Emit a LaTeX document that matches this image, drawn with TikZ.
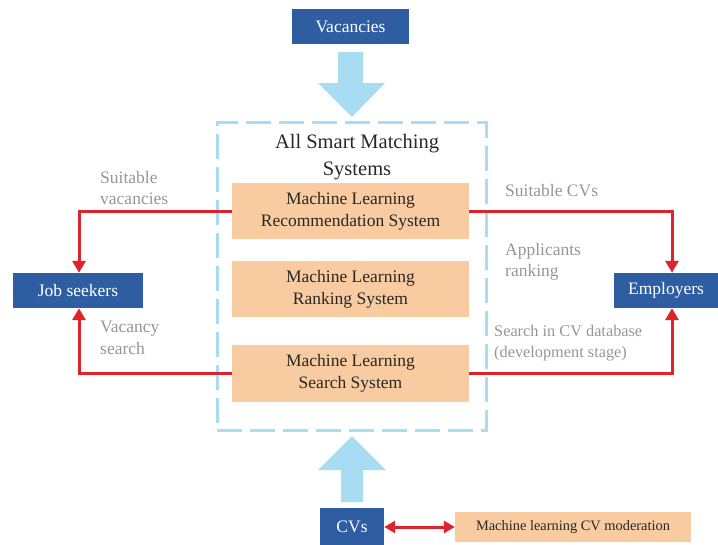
\documentclass[tikz,border=0pt]{standalone}
\usepackage{fontspec}
\setmainfont{Liberation Serif}
\usetikzlibrary{arrows.meta}
\definecolor{dblue}{RGB}{46,93,161}
\definecolor{orng}{RGB}{248,203,160}
\definecolor{lblue}{RGB}{168,220,242}
\definecolor{rred}{RGB}{222,35,45}
\definecolor{gtxt}{RGB}{150,150,150}
\definecolor{dtxt}{RGB}{40,40,40}
\begin{document}
\begin{tikzpicture}[x=1pt,y=-1pt,
  bluebox/.style={fill=dblue, text=white, font=\fontsize{17.5}{21}\selectfont, minimum height=35pt, inner sep=0pt},
  orbox/.style={fill=orng, text=dtxt, minimum width=237pt, align=center, inner sep=0pt, font=\fontsize{17.5}{22}\selectfont},
  lbl/.style={text=gtxt, align=left, anchor=west, inner sep=0pt, font=\fontsize{17.5}{21.5}\selectfont},
  redarrow/.style={draw=rred, line width=3pt, -{Triangle[width=13pt,length=12pt]}},
  bigarrow/.style={fill=lblue, draw=none}]
\useasboundingbox (0,0) rectangle (718,544);

% dashed system box
\node[draw=lblue, line width=3pt, dash pattern=on 25pt off 8pt, minimum width=269pt, minimum height=308pt, inner sep=0pt] (sys) at (351.5,276) {};
\node[text=dtxt, align=center, font=\fontsize{20.5}{27}\selectfont] (title) at (357,157) {All Smart Matching\\Systems};

% orange boxes
\node[orbox, minimum height=56pt] (b1) at (350.5,211) {Machine Learning\\Recommendation System};
\node[orbox, minimum height=56pt] (b2) at (350.5,289) {Machine Learning\\Ranking System};
\node[orbox, minimum height=57pt] (b3) at (350.5,373.5) {Machine Learning\\Search System};

% blue boxes
\node[bluebox, minimum width=117pt] (vac) at (350.5,26.5) {Vacancies};
\node[bluebox, minimum width=130pt] (js) at (78,290.5) {Job seekers};
\node[bluebox, minimum width=104pt] (emp) at (666,290.5) {Employers};
\node[bluebox, minimum width=64pt, minimum height=38pt] (cvs) at (352,527) {CVs};
\node[fill=orng, text=dtxt, minimum width=236pt, minimum height=30pt, inner sep=0pt, font=\fontsize{14.4}{17}\selectfont] (mod) at (573,527) {Machine learning CV moderation};

% big light-blue arrows
\fill[bigarrow] (338,52) -- (363,52) -- (363,83) -- (385,83) -- (352,117) -- (318,83) -- (338,83) -- cycle;
\fill[bigarrow] (341,502) -- (363,502) -- (363,470) -- (386,470) -- (352,436) -- (318,470) -- (341,470) -- cycle;

% red connectors
\draw[redarrow] (b1.west) -| ([xshift=1pt]js.north);
\draw[redarrow] (b3.west) -| ([xshift=1pt]js.south);
\draw[redarrow] (b1.east) -| ([xshift=6pt]emp.north);
\draw[redarrow] (b3.east) -| ([xshift=6pt]emp.south);
\draw[draw=rred, line width=3pt, {Triangle[width=12pt,length=11pt]}-{Triangle[width=12pt,length=11pt]}] (cvs.east) -- (mod.west);

% labels
\node[lbl] (l1) at (100,188) {Suitable\\vacancies};
\node[lbl] (l2) at (100,338) {Vacancy\\search};
\node[lbl] (l3) at (505,191) {Suitable CVs};
\node[lbl] (l4) at (505,262) {Applicants\\ranking};
\node[lbl, font=\fontsize{16.3}{20.5}\selectfont] (l5) at (494,343) {Search in CV database\\(development stage)};
\end{tikzpicture}
\end{document}
